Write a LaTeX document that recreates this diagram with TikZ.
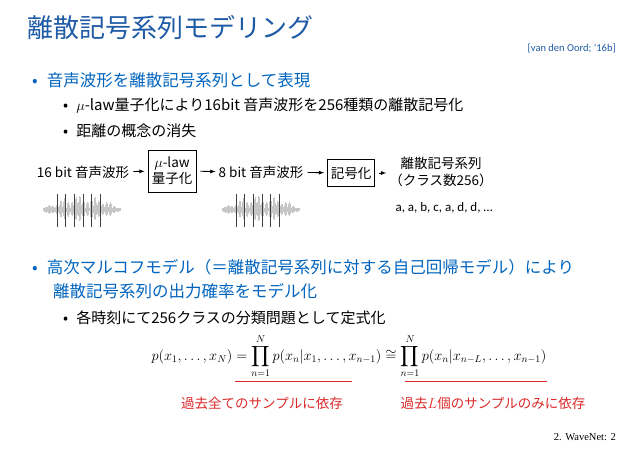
\documentclass[tikz,border=0pt]{standalone}
\usepackage{fontspec}
\setmainfont{Carlito}
\newfontfamily\jp{Noto Sans CJK JP}
\newfontfamily\tms{Liberation Serif}
\usepackage{amsmath}
\definecolor{ttl}{RGB}{30,90,165}
\definecolor{blu}{RGB}{0,100,190}
\definecolor{rd}{RGB}{220,40,40}
\tikzset{
 txt/.style={inner sep=0pt,anchor=west,font=\jp\fontsize{16.5}{19}\selectfont},
 stxt/.style={inner sep=0pt,anchor=west,font=\jp\fontsize{15}{18}\selectfont},
 lbl/.style={inner sep=0pt,font=\jp\fontsize{13.5}{17}\selectfont,align=center},
 bx/.style={draw,thick,inner sep=3pt,font=\jp\fontsize{13.5}{16}\selectfont,align=center},
 ar/.style={-latex,thick,shorten <=4pt,shorten >=3pt},
 wave/.style={gray!45,line width=0.5pt}
}
\newcommand\wavepic[2]{%
 \draw[gray!55,line width=0.8pt] (#1,#2) -- ++(78,0);
 \foreach \i in {0,...,77}{
   \pgfmathsetmacro\a{(2+11*abs(sin(\i*47))*sin(\i*180/78))*(1+0.3*sin(\i*23))}
   \draw[wave] (#1+\i,#2-\a*0.9) -- (#1+\i,#2+\a*0.7);
 }
 \foreach \i in {14,22,31,40,48,57}{\draw[gray!50!black,line width=0.4pt] (#1+\i,#2-16) -- (#1+\i,#2+17);}
}
\begin{document}
\begin{tikzpicture}[x=1pt,y=-1pt]
\useasboundingbox (0,0) rectangle (638,452);
\node[txt,text=ttl,font=\jp\fontsize{26}{28}\selectfont] (t) at (27,28) {離散記号系列モデリング};
\node[inner sep=0pt,anchor=east,text=ttl,font=\fontsize{10.5}{12}\selectfont] (ref) at (616,48) {[van den Oord; ’16b]};
\node[txt,text=blu] (b1) at (32,80) {•\hspace{9pt}音声波形を離散記号系列として表現};
\node[stxt] (b11) at (63,106) {•\hspace{8pt}$\mu$-law量子化により16bit 音声波形を256種類の離散記号化};
\node[stxt] (b12) at (63,131) {•\hspace{8pt}距離の概念の消失};
\node[lbl] (w16) at (83,172) {16 bit 音声波形};
\node[bx,minimum width=48pt,minimum height=42pt] (mu) at (172,171) {$\mu$-law\\量子化};
\node[lbl] (w8) at (261,172) {8 bit 音声波形};
\node[bx,minimum width=47pt,minimum height=27pt] (enc) at (351,173) {記号化};
\node[lbl] (seq) at (441,172) {離散記号系列\\（クラス数256）};
\node[lbl,font=\fontsize{13}{15}\selectfont] (abc) at (444,208) {a, a, b, c, a, d, d, …};
\draw[ar] (w16) -- (mu);
\draw[ar] (mu) -- (w8);
\draw[ar] (w8) -- (enc);
\draw[ar] (enc) -- (seq.west |- enc);
\wavepic{43}{210}
\wavepic{222}{210}
\node[txt,text=blu] (b2) at (32,267) {•\hspace{9pt}高次マルコフモデル（＝離散記号系列に対する自己回帰モデル）により};
\node[txt,text=blu] (b2b) at (53,291) {離散記号系列の出力確率をモデル化};
\node[stxt] (b21) at (63,318) {•\hspace{8pt}各時刻にて256クラスの分類問題として定式化};
\node[inner sep=0pt,font=\fontsize{14}{16}\selectfont] (eq) at (349,356) {$\displaystyle p(x_1,\dots,x_N)=\prod_{n=1}^{N}p(x_n|x_1,\dots,x_{n-1})\cong\prod_{n=1}^{N}p(x_n|x_{n-L},\dots,x_{n-1})$};
\draw[rd,line width=1pt] (235,381) -- (352,381);
\draw[rd,line width=1pt] (405,381) -- (547,381);
\node[lbl,text=rd,font=\jp\fontsize{13.5}{15}\selectfont] (r1) at (262,403) {過去全てのサンプルに依存};
\node[lbl,text=rd,font=\jp\fontsize{13.5}{15}\selectfont] (r2) at (493,403) {過去$L$個のサンプルのみに依存};
\node[inner sep=0pt,anchor=east,font=\tms\fontsize{10.5}{12}\selectfont] (ft) at (616,437) {2. WaveNet: 2};
\end{tikzpicture}
\end{document}
